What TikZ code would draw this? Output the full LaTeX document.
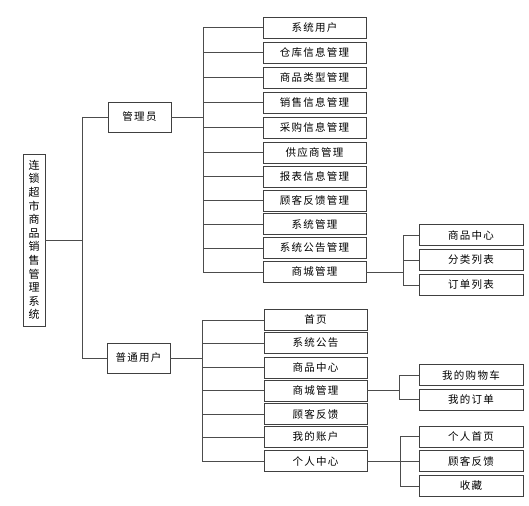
\documentclass[tikz,border=0pt]{standalone}
\usepackage{fontspec}
\setmainfont{Noto Sans CJK SC}[LetterSpace=12]
\begin{document}
\begin{tikzpicture}[x=1pt,y=-1pt,
  box/.style={draw=black!75,line width=0.9pt,fill=white,inner sep=0pt,
    minimum width=103pt,minimum height=21pt,font=\fontsize{10.5}{12}\selectfont},
  sbox/.style={box,minimum width=104pt},
  rbox/.style={box,minimum width=63pt,minimum height=30pt},
  conn/.style={draw=black!70,line width=0.8pt}]
\useasboundingbox (0,0) rectangle (529,505);
% root
\node[draw=black!75,line width=0.9pt,minimum width=22pt,minimum height=172pt,inner sep=0pt,
  align=center,font=\fontsize{11}{13.6}\selectfont] (root) at (34,240)
  {连\\锁\\超\\市\\商\\品\\销\\售\\管\\理\\系\\统};
\node[rbox] (adm) at (139.5,117) {管理员};
\node[rbox] (usr) at (138.5,358) {普通用户};
% admin children
\node[box] (a1) at (314.5,27.5) {系统用户};
\node[box] (a2) at (314.5,52.5) {仓库信息管理};
\node[box] (a3) at (314.5,77.5) {商品类型管理};
\node[box] (a4) at (314.5,102.5) {销售信息管理};
\node[box] (a5) at (314.5,127.5) {采购信息管理};
\node[box] (a6) at (314.5,152.5) {供应商管理};
\node[box] (a7) at (314.5,176.5) {报表信息管理};
\node[box] (a8) at (314.5,200.5) {顾客反馈管理};
\node[box] (a9) at (314.5,224) {系统管理};
\node[box] (a10) at (314.5,248) {系统公告管理};
\node[box] (a11) at (314.5,272) {商城管理};
% admin mall children
\node[sbox] (b1) at (471,235) {商品中心};
\node[sbox] (b2) at (471,260) {分类列表};
\node[sbox] (b3) at (471,285) {订单列表};
% user children
\node[box] (u1) at (315.5,320) {首页};
\node[box] (u2) at (315.5,343) {系统公告};
\node[box] (u3) at (315.5,367.5) {商品中心};
\node[box] (u4) at (315.5,390.5) {商城管理};
\node[box] (u5) at (315.5,414) {顾客反馈};
\node[box] (u6) at (315.5,437) {我的账户};
\node[box] (u7) at (315.5,461) {个人中心};
% user mall children
\node[sbox] (c1) at (471,375) {我的购物车};
\node[sbox] (c2) at (471,399.5) {我的订单};
% user personal children
\node[sbox] (d1) at (471,436.5) {个人首页};
\node[sbox] (d2) at (471,461) {顾客反馈};
\node[sbox] (d3) at (471,486) {收藏};
% trunks
\coordinate (t0) at (82,0);
\coordinate (ta) at (203,0);
\coordinate (tu) at (202,0);
\coordinate (tb) at (403,0);
\coordinate (tc) at (399,0);
\coordinate (td) at (400,0);
% root connectors
\draw[conn] (root.east) -- (root.east -| t0);
\draw[conn] (adm.west -| t0) -- (usr.west -| t0);
\draw[conn] (adm.west) -- (adm.west -| t0);
\draw[conn] (usr.west) -- (usr.west -| t0);
% admin connectors
\draw[conn] (adm.east) -- (adm.east -| ta);
\draw[conn] (a1.west -| ta) -- (a11.west -| ta);
\foreach \n in {a1,a2,a3,a4,a5,a6,a7,a8,a9,a10,a11}
  \draw[conn] (\n.west) -- (\n.west -| ta);
\draw[conn] (a11.east) -- (a11.east -| tb);
\draw[conn] (b1.west -| tb) -- (b3.west -| tb);
\foreach \n in {b1,b2,b3}
  \draw[conn] (\n.west) -- (\n.west -| tb);
% user connectors
\draw[conn] (usr.east) -- (usr.east -| tu);
\draw[conn] (u1.west -| tu) -- (u7.west -| tu);
\foreach \n in {u1,u2,u3,u4,u5,u6,u7}
  \draw[conn] (\n.west) -- (\n.west -| tu);
\draw[conn] (u4.east) -- (u4.east -| tc);
\draw[conn] (c1.west -| tc) -- (c2.west -| tc);
\foreach \n in {c1,c2}
  \draw[conn] (\n.west) -- (\n.west -| tc);
\draw[conn] (u7.east) -- (u7.east -| td);
\draw[conn] (d1.west -| td) -- (d3.west -| td);
\foreach \n in {d1,d2,d3}
  \draw[conn] (\n.west) -- (\n.west -| td);
\end{tikzpicture}
\end{document}
